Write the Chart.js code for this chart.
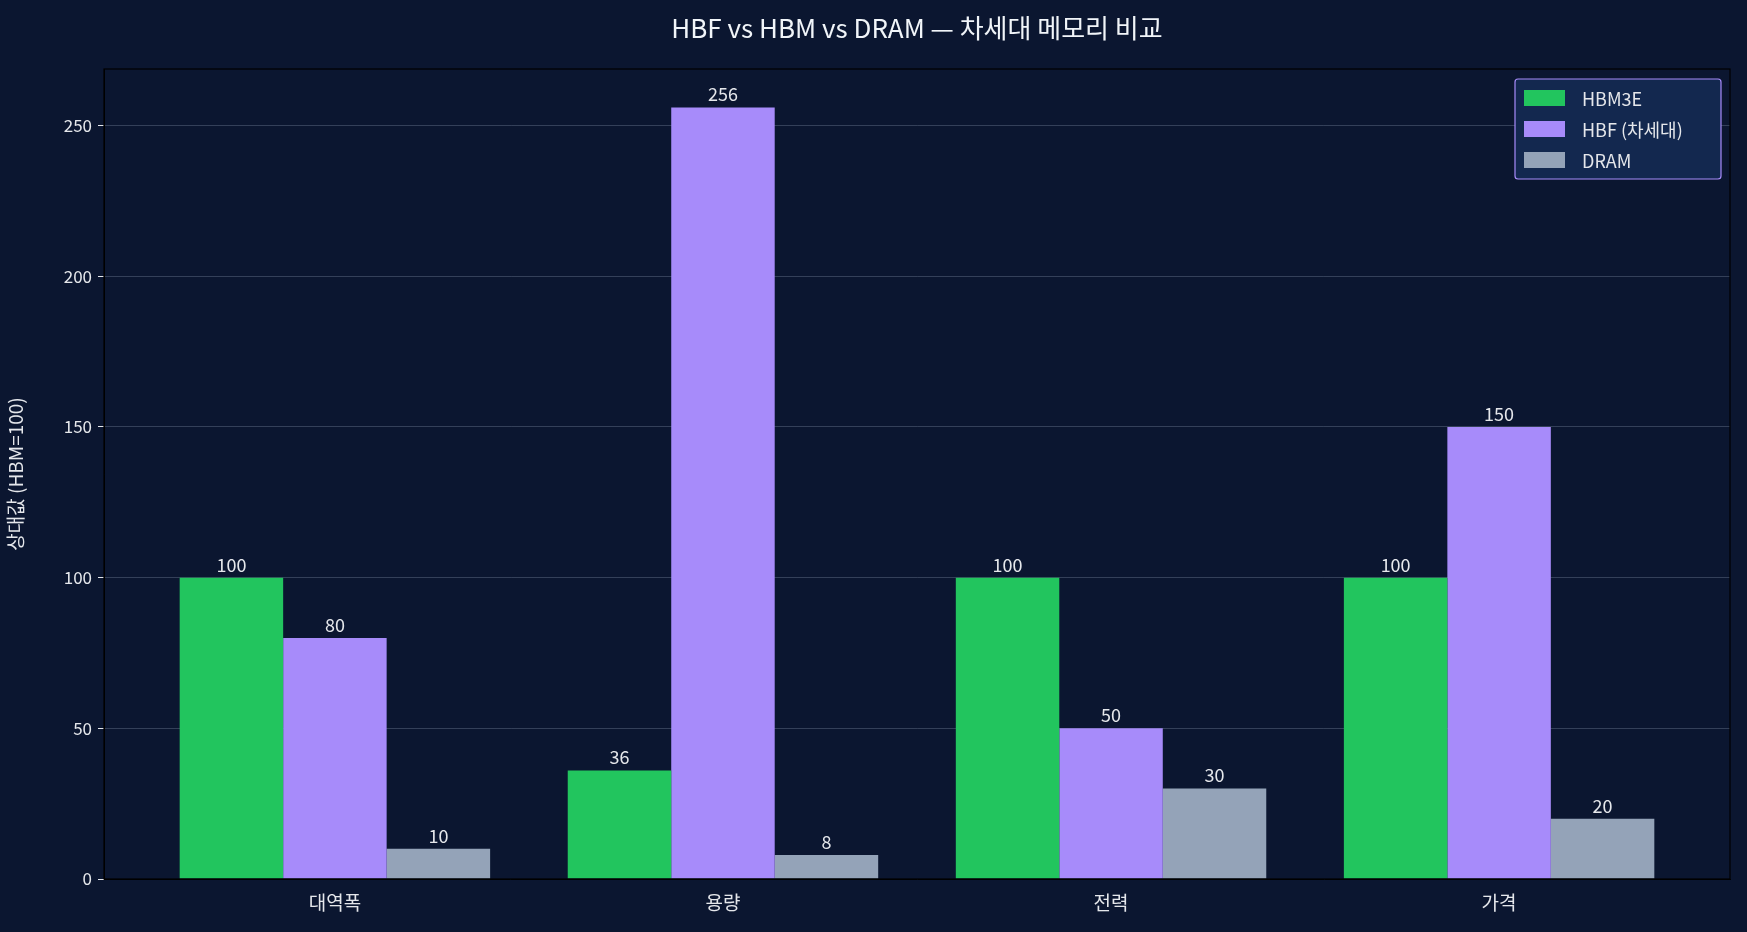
<!DOCTYPE html>
<html><head><meta charset="utf-8">
<script src="https://cdn.jsdelivr.net/npm/chart.js@4"></script>
<style>html,body{margin:0;padding:0;background:#0b1630;}#w{width:1747px;height:932px;}</style>
</head><body><div id="w"><canvas id="c"></canvas></div>
<script>
const categories = ['대역폭', '용량', '전력', '가격'];
const seriesNames = ['HBM3E', 'HBF (차세대)', 'DRAM'];
const hbm3e = [100, 36, 100, 100];
const hbf = [80, 256, 50, 150];
const dram = [10, 8, 30, 20];
const yTicks = [0, 50, 100, 150, 200, 250];
const colors = ['#22c55e', '#a78bfa', '#94a3b8'];
const FONT = '"Noto Sans CJK KR","Noto Sans",sans-serif';

const mk = (arr) => arr.map((v, i) => ({x: i, y: v}));
const sets = [hbm3e, hbf, dram];

const deco = {
  id: 'deco',
  beforeDraw(ch) {
    const c = ch.ctx, a = ch.chartArea;
    c.save();
    c.fillStyle = '#0b1630'; c.fillRect(0, 0, ch.width, ch.height);
    c.restore();
  },
  afterDatasetsDraw(ch) {
    const c = ch.ctx, a = ch.chartArea;
    c.save();
    c.strokeStyle = '#000000'; c.lineWidth = 1.2;
    c.strokeRect(a.left, a.top, a.right - a.left, a.bottom - a.top);
    // data labels
    c.fillStyle = '#e5e7eb'; c.font = '18px ' + FONT; c.textAlign = 'center'; c.textBaseline = 'bottom';
    ch.data.datasets.forEach((ds, di) => {
      ch.getDatasetMeta(di).data.forEach((el, i) => {
        c.fillText(String(sets[di][i]), el.x, el.y - 4);
      });
    });
    // title
    c.fillStyle = '#f1f5f9'; c.font = '26px ' + FONT; c.textBaseline = 'middle';
    c.fillText('HBF vs HBM vs DRAM — 차세대 메모리 비교', (a.left + a.right) / 2 + 0, 28);
    // legend
    const lx = 1515, ly = 79, lw = 206, lh = 100;
    c.fillStyle = '#13284f'; c.strokeStyle = '#a78bfa'; c.lineWidth = 1.2;
    c.beginPath(); c.roundRect(lx, ly, lw, lh, 3); c.fill(); c.stroke();
    c.font = '18px ' + FONT; c.textAlign = 'left';
    seriesNames.forEach((n, i) => {
      const y = 98 + i * 31;
      c.fillStyle = colors[i]; c.fillRect(1524, y - 8, 41, 16);
      c.fillStyle = '#e5e7eb'; c.fillText(n, 1582, y + 1);
    });
    c.restore();
  }
};

new Chart(document.getElementById('c'), {
  type: 'bar',
  data: {
    datasets: sets.map((s, i) => ({
      label: seriesNames[i], data: mk(s), backgroundColor: colors[i],
      categoryPercentage: 0.8, barPercentage: 1.0, borderWidth: 0
    }))
  },
  options: {
    responsive: true, maintainAspectRatio: false, animation: false,
    layout: {padding: {top: 69, right: 17, left: 0, bottom: 0}},
    plugins: {legend: {display: false}, tooltip: {enabled: false}, title: {display: false}},
    scales: {
      x: {
        type: 'linear', min: -0.595, max: 3.595, offset: false,
        afterBuildTicks: (s) => { s.ticks = categories.map((_, i) => ({value: i})); },
        afterFit: (s) => { s.height = 53; },
        ticks: {callback: (v) => categories[v] ?? '', color: '#e5e7eb', font: {family: FONT, size: 19}, padding: 6},
        grid: {display: false, drawTicks: true, tickLength: 6, tickColor: '#e5e7eb'},
        border: {color: '#000'}
      },
      y: {
        min: 0, max: 268.8,
        afterBuildTicks: (s) => { s.ticks = yTicks.map(v => ({value: v})); },
        afterFit: (s) => { s.width = 104; },
        ticks: {color: '#e5e7eb', font: {family: FONT, size: 17}, padding: 6},
        grid: {color: 'rgba(148,163,184,0.3)', tickColor: '#e5e7eb', tickLength: 6},
        border: {color: '#000'},
        title: {display: true, text: '상대값 (HBM=100)', color: '#e5e7eb', font: {family: FONT, size: 19}, padding: {bottom: 4}}
      }
    }
  },
  plugins: [deco]
});
</script></body></html>
